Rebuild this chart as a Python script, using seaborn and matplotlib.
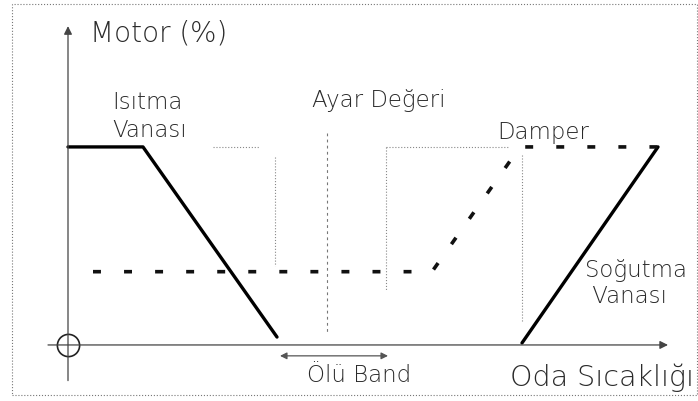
import numpy as np
import pandas as pd
import matplotlib.pyplot as plt
import seaborn as sns
from matplotlib.patches import Rectangle

sns.set_theme(style="white")
plt.rcParams['font.family'] = ['DejaVu Sans']

# Schematic values: x = room temperature (arbitrary units), y = motor (%)
heat_x = [0, 75, 209]
heat_y = [100, 100, 4]
damper_x = [25, 364, 452, 590]
damper_y = [37, 37, 100, 100]
cool_x = [454, 590]
cool_y = [1, 100]

set_point = 259
dead_band = [207, 318]

heat = pd.DataFrame({'x': heat_x, 'y': heat_y})
damper = pd.DataFrame({'x': damper_x, 'y': damper_y})
cool = pd.DataFrame({'x': cool_x, 'y': cool_y})

fig = plt.figure(figsize=(6.98, 4.02), dpi=100)
ax = fig.add_axes([0, 0, 1, 1])

# frame round the scan
fig.patches.append(Rectangle((12 / 698, 1 - 396 / 402), 685 / 698, 391 / 402,
                             transform=fig.transFigure, fill=False,
                             ec='#777777', lw=0.8, ls=':'))

# guide lines
guide = dict(color='#888888', lw=0.8, ls=':')
ax.plot([145, 192], [100, 100], **guide)
ax.plot([dead_band[0]] * 2, [95, 40], **guide)
ax.plot([dead_band[1]] * 2, [100, 28], **guide)
ax.plot([dead_band[1], 440], [100, 100], **guide)
ax.plot([cool_x[0]] * 2, [96, 12], **guide)
ax.plot([set_point] * 2, [107, 6], color='#777777', lw=0.8, ls=(0, (2.5, 3)))

# axes with arrow heads
arr = dict(color='#444444', lw=0.9, mutation_scale=12, shrinkA=0, shrinkB=0)
ax.annotate('', xy=(600, 0), xytext=(-20, 0), arrowprops=dict(arrowstyle='-|>', **arr))
ax.annotate('', xy=(0, 161), xytext=(0, -18), arrowprops=dict(arrowstyle='-|>', **arr))
ax.plot(0, 0, 'o', ms=16, mfc='none', mec='#222222', mew=1.2)

# dead band arrow
ax.annotate('', xy=(dead_band[1] + 2, -5.5), xytext=(dead_band[0] + 5, -5.5),
            arrowprops=dict(arrowstyle='<|-|>', color='#555555', lw=0.9,
                            mutation_scale=10, shrinkA=0, shrinkB=0))

# valve and damper curves
sns.lineplot(data=heat, x='x', y='y', ax=ax, color='black', lw=2.4,
             estimator=None, sort=False)
sns.lineplot(data=cool, x='x', y='y', ax=ax, color='black', lw=2.4,
             estimator=None, sort=False)
sns.lineplot(data=damper, x='x', y='y', ax=ax, color='#111111', lw=2.6,
             linestyle=(0, (2.2, 6.4)), estimator=None, sort=False)
ax.set_xlim(-68, 630)
ax.set_ylim(-28.3, 174.7)
ax.axis('off')

txt = dict(color='#2a2a2a', va='center', ha='left', fontweight='light')
ax.text(22, 158, 'Motor (%)', fontsize=20, **txt)
ax.text(44, 116, 'Isıtma\nVanası', fontsize=16.5, linespacing=1.3, **txt)
ax.text(244, 124, 'Ayar Değeri', fontsize=16.5, **txt)
ax.text(429, 108, 'Damper', fontsize=16.5, **txt)
ax.text(517, 31.6, 'Soğutma\n Vanası', fontsize=16.5, linespacing=1.2, **txt)
ax.text(239, -15, 'Ölü Band', fontsize=16.5, **txt)
ax.text(442, -16, 'Oda Sıcaklığı', fontsize=20.5, **txt)

fig.savefig('out.png', dpi=100)
